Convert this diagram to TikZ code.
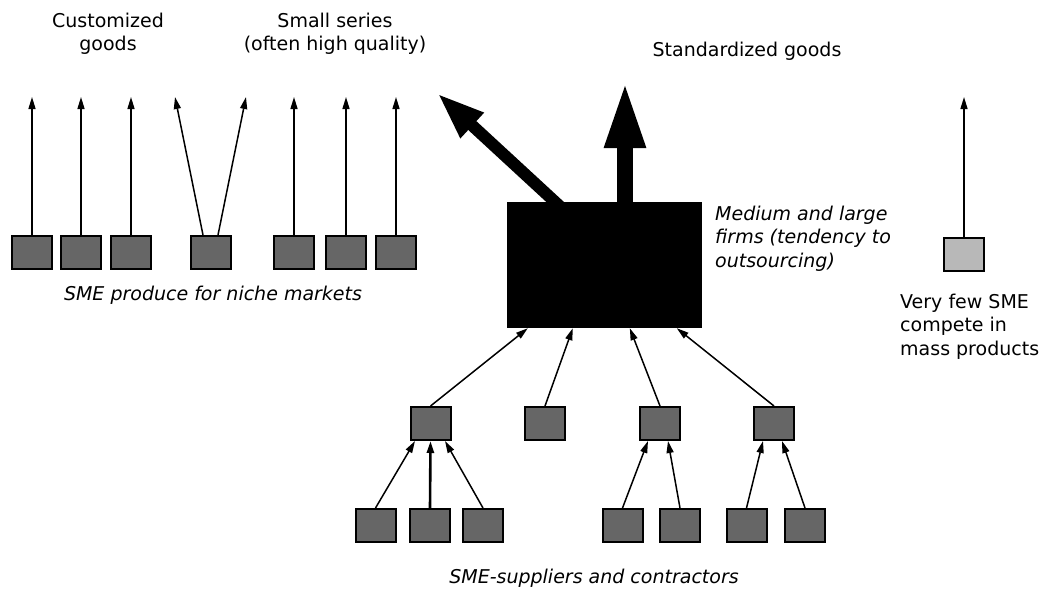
\documentclass[tikz,border=0pt]{standalone}
\usepackage{fontspec}
\setmainfont{DejaVu Sans}
\usetikzlibrary{arrows.meta}

\begin{document}
\begin{tikzpicture}[x=1pt,y=-1pt,
  lbl/.style={font=\fontsize{19}{23.5}\selectfont, inner sep=0pt, align=center},
  ilbl/.style={font=\fontsize{19}{23.5}\selectfont\itshape, inner sep=0pt},
  sme/.style={draw=black, line width=2pt, fill=black!60, minimum width=40pt,
              minimum height=33pt, inner sep=0pt},
  smelight/.style={sme, fill=black!28},
  firm/.style={fill=black, draw=none, minimum width=195pt, minimum height=126pt, inner sep=0pt},
  thin/.style={line width=1.5pt, -{Triangle[length=12pt,width=7pt]}},
  thinbold/.style={thin, line width=2.6pt},
  fatdiag/.style={line width=12pt, -{Triangle[length=48pt,width=31pt]}},
  fatup/.style={line width=16pt, -{Triangle[length=68pt,width=37pt]}}
]
\useasboundingbox (0,0) rectangle (1045,590);

% headings
\node[lbl] (custom) at (108,34) {Customized\\goods};
\node[lbl] (small) at (335,34) {Small series\\(often high quality)};
\node[lbl, anchor=base] (std) at (747,56) {Standardized goods};

% SMEs serving niche markets
\node[sme] (t1) at (32,252.5) {};
\node[sme] (t2) at (81,252.5) {};
\node[sme] (t3) at (131,252.5) {};
\node[sme] (t4) at (211,252.5) {};
\node[sme] (t5) at (294,252.5) {};
\node[sme] (t6) at (346,252.5) {};
\node[sme] (t7) at (396,252.5) {};
\node[ilbl, anchor=base] (niche) at (213,300) {SME produce for niche markets};

\coordinate (t1tip) at (32,97);
\coordinate (t2tip) at (81,97);
\coordinate (t3tip) at (131,97);
\coordinate (t4tipl) at (175,97);
\coordinate (t4tipr) at (246,97);
\coordinate (t5tip) at (294,97);
\coordinate (t6tip) at (346,97);
\coordinate (t7tip) at (396,97);

\draw[thin] (t1.north) -- (t1tip);
\draw[thin] (t2.north) -- (t2tip);
\draw[thin] (t3.north) -- (t3tip);
\draw[thin] ([xshift=-8pt]t4.north) -- (t4tipl);
\draw[thin] ([xshift=7pt]t4.north) -- (t4tipr);
\draw[thin] (t5.north) -- (t5tip);
\draw[thin] (t6.north) -- (t6tip);
\draw[thin] (t7.north) -- (t7tip);

% medium and large firms
\node[firm] (big) at (604.5,265) {};
\node[ilbl, anchor=north west, align=left] (bigtxt) at (715,205.5)
  {Medium and large\\firms (tendency to\\outsourcing)};

\coordinate (diagtip) at (437,93);
\coordinate (uptip) at (625,80);
\draw[fatdiag] ([xshift=-38.7pt,yshift=-10pt]big.north) -- (diagtip);
\draw[fatup] ([xshift=20.5pt,yshift=-5pt]big.north) -- (uptip);

% SME in mass products
\node[smelight] (mass) at (964,254) {};
\coordinate (masstip) at (964,97);
\draw[thin] (mass.north) -- (masstip);
\node[lbl, anchor=north west, align=left] (masstxt) at (900,293.5)
  {Very few SME\\compete in\\mass products};

% suppliers, first tier
\node[sme] (m1) at (430.5,423.5) {};
\node[sme] (m2) at (545,423.5) {};
\node[sme] (m3) at (660,423.5) {};
\node[sme] (m4) at (774,423.5) {};

\draw[thin] (m1.north) -- ([xshift=21pt]big.south west);
\draw[thin] (m2.north) -- ([xshift=66pt]big.south west);
\draw[thin] (m3.north) -- ([xshift=123pt]big.south west);
\draw[thin] (m4.north) -- ([xshift=170pt]big.south west);

% suppliers, second tier
\node[sme] (b1) at (375.5,525.5) {};
\node[sme] (b2) at (430,525.5) {};
\node[sme] (b3) at (483,525.5) {};
\node[sme] (b4) at (622.5,525.5) {};
\node[sme] (b5) at (680,525.5) {};
\node[sme] (b6) at (746.5,525.5) {};
\node[sme] (b7) at (805,525.5) {};

\draw[thin] (b1.north) -- ([xshift=-15.5pt]m1.south);
\draw[thinbold] (b2.north) -- (m1.south);
\draw[thin] (b3.north) -- ([xshift=14.5pt]m1.south);
\draw[thin] (b4.north) -- ([xshift=-12pt]m3.south);
\draw[thin] (b5.north) -- ([xshift=8pt]m3.south);
\draw[thin] (b6.north) -- ([xshift=-11pt]m4.south);
\draw[thin] (b7.north) -- ([xshift=8pt]m4.south);

\node[ilbl, anchor=base] (suppl) at (594,583) {SME-suppliers and contractors};
\end{tikzpicture}
\end{document}
